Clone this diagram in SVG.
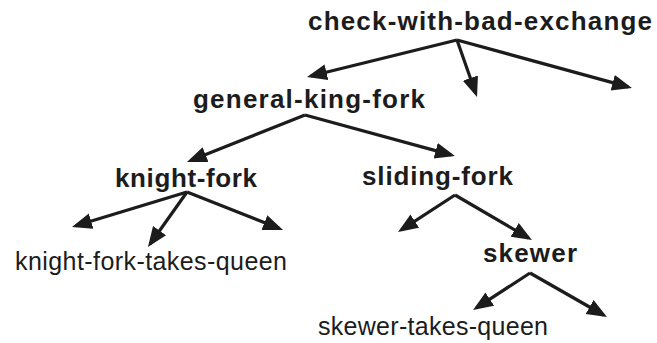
<svg xmlns="http://www.w3.org/2000/svg" width="657" height="343" viewBox="0 0 657 343">
<style>
.bg{fill:#ffffff}
.b{font-family:"Liberation Sans",Arial,Helvetica,sans-serif;font-weight:bold;font-size:26px;fill:#1c1c1c}
.r{font-family:"Liberation Sans",Arial,Helvetica,sans-serif;font-size:25px;fill:#1c1c1c}
.e{fill:none;stroke:#1c1c1c;stroke-width:3.2;marker-end:url(#ah)}
</style>
<defs>
<marker id="ah" markerUnits="userSpaceOnUse" markerWidth="22" markerHeight="18" refX="16" refY="8" orient="auto">
<path d="M0,0 L20,8 L0,16 z" fill="#1c1c1c"/>
</marker>
</defs>
<rect class="bg" x="0" y="0" width="657" height="343"/>
<g id="connectors">
<path class="e" d="M457,40 L310.9,76"/>
<path class="e" d="M457,40 L475.7,93.2"/>
<path class="e" d="M457,40 L628.1,86.9"/>
<path class="e" d="M305,115 L190.7,160.5"/>
<path class="e" d="M305,115 L451.1,154.9"/>
<path class="e" d="M187,192 L75.8,225.8"/>
<path class="e" d="M187,192 L150.3,243.7"/>
<path class="e" d="M187,192 L279.3,228.5"/>
<path class="e" d="M455,195 L401.4,229.8"/>
<path class="e" d="M455,195 L528.5,238"/>
<path class="e" d="M530,273 L476.4,307.8"/>
<path class="e" d="M530,273 L603.5,315"/>
</g>
<g id="check-with-bad-exchange"><text class="b" x="308" y="30" textLength="344" lengthAdjust="spacing">check-with-bad-exchange</text></g>
<g id="general-king-fork"><text class="b" x="193" y="108" textLength="232" lengthAdjust="spacing">general-king-fork</text></g>
<g id="knight-fork"><text class="b" x="115" y="187" textLength="142" lengthAdjust="spacing">knight-fork</text></g>
<g id="sliding-fork"><text class="b" x="362" y="185" textLength="151" lengthAdjust="spacing">sliding-fork</text></g>
<g id="skewer"><text class="b" x="483" y="262" textLength="94" lengthAdjust="spacing">skewer</text></g>
<g id="knight-fork-takes-queen"><text class="r" x="15" y="270" textLength="272" lengthAdjust="spacing">knight-fork-takes-queen</text></g>
<g id="skewer-takes-queen"><text class="r" x="318" y="335" textLength="230" lengthAdjust="spacing">skewer-takes-queen</text></g>
</svg>
